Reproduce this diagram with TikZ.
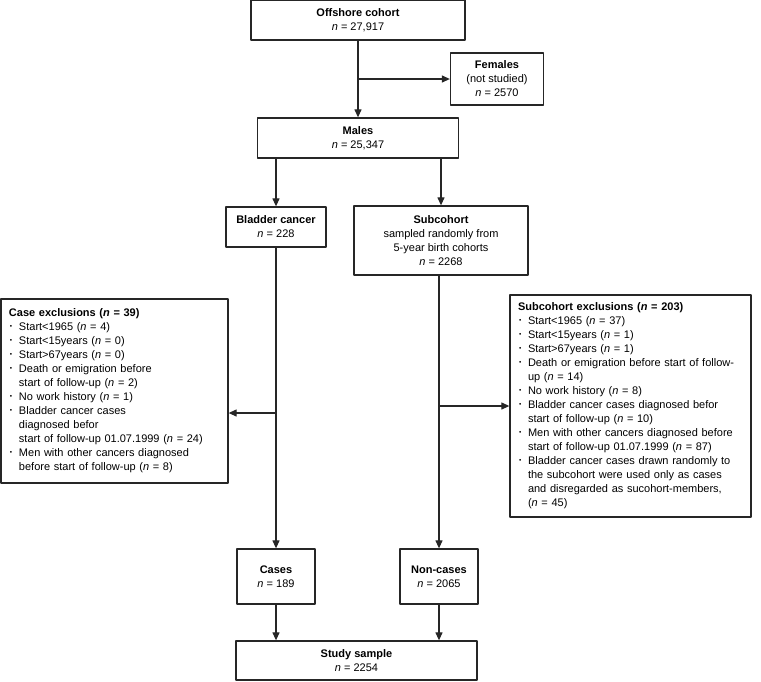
\documentclass[tikz,border=0pt]{standalone}
\usepackage{fontspec}
\setmainfont{Liberation Sans}
\usetikzlibrary{arrows.meta}
\newcommand{\nn}{\textit{n}}
\newcommand{\bitem}[1]{\par\hangindent=10pt\hangafter=1\makebox[10pt][l]{\hspace{1pt}\raisebox{2pt}{\fontsize{6.5}{6.5}\selectfont\textbullet}}#1\par}
\begin{document}
\begin{tikzpicture}[x=1pt, y=-1pt, line join=round,
  >={Triangle[length=8pt,width=7pt]},
  every node/.style={font=\fontsize{11}{14}\selectfont},
  box/.style={draw=black!85, line width=1.3pt, align=center, inner sep=2pt},
  exclbox/.style={draw=black!85, line width=1.3pt, align=left, inner sep=8pt},
  arr/.style={->, line width=1.2pt, draw=black!85}]
\useasboundingbox (0,0) rectangle (761,681);
%Các ô chính
\node[box, minimum width=214, minimum height=40] (offshore) at (358,20) {\textbf{Offshore cohort}\\\nn{} = 27,917};
\node[box, minimum width=93, minimum height=52] (females) at (497,79) {\textbf{Females}\\(not studied)\\\nn{} = 2570};
\node[box, minimum width=201, minimum height=40] (males) at (358,138) {\textbf{Males}\\\nn{} = 25,347};
\node[box, minimum width=100, minimum height=40] (bladder) at (276,227) {\textbf{Bladder cancer}\\\nn{} = 228};
\node[box, minimum width=174, minimum height=69] (subcohort) at (441,240.5) {\textbf{Subcohort}\\sampled randomly from\\5-year birth cohorts\\\nn{} = 2268};
\node[box, minimum width=78, minimum height=55] (cases) at (276,576.5) {\textbf{Cases}\\\nn{} = 189};
\node[box, minimum width=78, minimum height=55] (noncases) at (439,576.5) {\textbf{Non-cases}\\\nn{} = 2065};
\node[box, minimum width=241, minimum height=39] (study) at (356.5,660.5) {\textbf{Study sample}\\\nn{} = 2254};
%Các ô loại trừ
\node[exclbox, text width=211, minimum height=184] (caseexcl) at (114.5,391) {\textbf{Case exclusions (\textit{n} = 39)}
  \bitem{Start<1965 (\nn{} = 4)}
  \bitem{Start<15years (\nn{} = 0)}
  \bitem{Start>67years (\nn{} = 0)}
  \bitem{Death or emigration before\newline start of follow-up (\nn{} = 2)}
  \bitem{No work history (\nn{} = 1)}
  \bitem{Bladder cancer cases\newline diagnosed befor\newline start of follow-up 01.07.1999 (\nn{} = 24)}
  \bitem{Men with other cancers diagnosed\newline before start of follow-up (\nn{} = 8)}};
\node[exclbox, text width=225, minimum height=221] (subexcl) at (630.5,406) {\textbf{Subcohort exclusions (\textit{n} = 203)}
  \bitem{Start<1965 (\nn{} = 37)}
  \bitem{Start<15years (\nn{} = 1)}
  \bitem{Start>67years (\nn{} = 1)}
  \bitem{Death or emigration before start of follow-\newline up (\nn{} = 14)}
  \bitem{No work history (\nn{} = 8)}
  \bitem{Bladder cancer cases diagnosed befor\newline start of follow-up (\nn{} = 10)}
  \bitem{Men with other cancers diagnosed before\newline start of follow-up 01.07.1999 (\nn{} = 87)}
  \bitem{Bladder cancer cases drawn randomly to\newline the subcohort were used only as cases\newline and disregarded as sucohort-members,\newline (\nn{} = 45)}};
%Mũi tên
\coordinate (casesplit) at (276,413);
\draw[arr] (offshore) -- (males);
\draw[arr] (offshore.south |- females.west) -- (females.west);
\draw[arr] (males.south -| bladder) -- (bladder.north);
\draw[arr] (males.south -| subcohort) -- (subcohort.north);
\draw[arr] (bladder) -- (cases);
\draw[arr] (casesplit) -- (casesplit -| caseexcl.east);
\draw[arr] (subcohort.south -| noncases) -- (noncases.north);
\draw[arr] (noncases.north |- subexcl.west) -- (subexcl.west);
\draw[arr] (cases.south) -- (cases.south |- study.north);
\draw[arr] (noncases.south) -- (noncases.south |- study.north);
\end{tikzpicture}
\end{document}
